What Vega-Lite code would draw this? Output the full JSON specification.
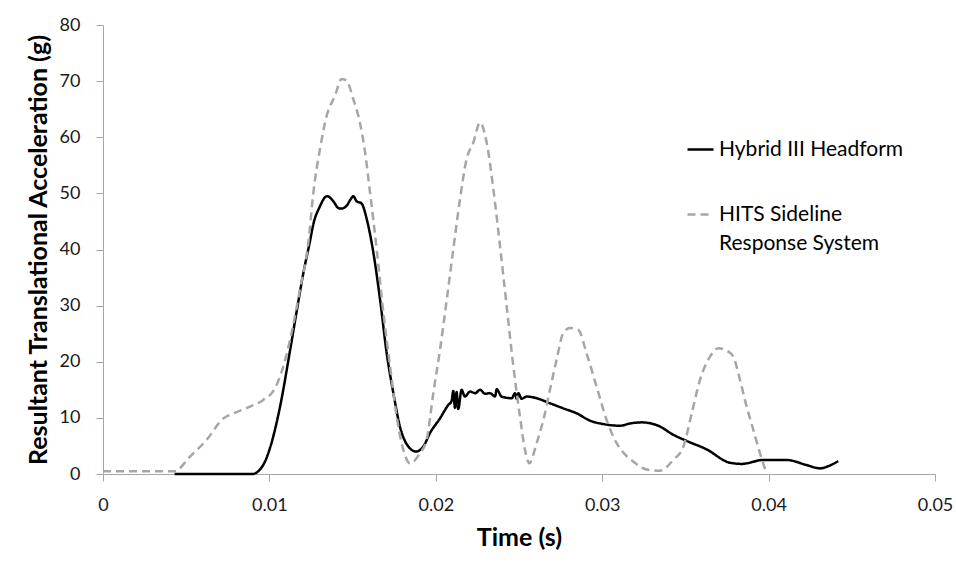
{
  "$schema": "https://vega.github.io/schema/vega-lite/v6.json",
  "width": 832,
  "height": 449,
  "autosize": "none",
  "padding": {"left": 103, "top": 25, "right": 21, "bottom": 89},
  "background": "white",
  "config": {
    "view": {"stroke": null},
    "font": "Lato",
    "style": {"guide-label": {"lineHeight": 29}},
    "axis": {"grid": false, "domainColor": "#A6A6A6", "tickColor": "#A6A6A6", "domainWidth": 1, "tickWidth": 1, "labelFont": "Lato", "labelFontSize": 18, "labelColor": "#1a1a1a", "titleFont": "Lato", "titleFontWeight": "bold", "titleColor": "#000000"}
  },
  "data": {"values": [
    {"t":0.0043,"g":0,"s":"Hybrid III Headform"},
    {"t":0.0090,"g":0,"s":"Hybrid III Headform"},
    {"t":0.0092,"g":0.2,"s":"Hybrid III Headform"},
    {"t":0.0094,"g":0.7,"s":"Hybrid III Headform"},
    {"t":0.0097,"g":2,"s":"Hybrid III Headform"},
    {"t":0.0100,"g":4.3,"s":"Hybrid III Headform"},
    {"t":0.01064,"g":12,"s":"Hybrid III Headform"},
    {"t":0.01124,"g":22,"s":"Hybrid III Headform"},
    {"t":0.01164,"g":29,"s":"Hybrid III Headform"},
    {"t":0.01204,"g":35.8,"s":"Hybrid III Headform"},
    {"t":0.01244,"g":41.5,"s":"Hybrid III Headform"},
    {"t":0.01264,"g":44.5,"s":"Hybrid III Headform"},
    {"t":0.01304,"g":47.7,"s":"Hybrid III Headform"},
    {"t":0.01334,"g":49.3,"s":"Hybrid III Headform"},
    {"t":0.01348,"g":49.5,"s":"Hybrid III Headform"},
    {"t":0.01384,"g":48.6,"s":"Hybrid III Headform"},
    {"t":0.01414,"g":47.4,"s":"Hybrid III Headform"},
    {"t":0.01434,"g":47.3,"s":"Hybrid III Headform"},
    {"t":0.01464,"g":47.8,"s":"Hybrid III Headform"},
    {"t":0.01494,"g":49.2,"s":"Hybrid III Headform"},
    {"t":0.01504,"g":49.5,"s":"Hybrid III Headform"},
    {"t":0.01524,"g":48.6,"s":"Hybrid III Headform"},
    {"t":0.01554,"g":48.2,"s":"Hybrid III Headform"},
    {"t":0.01585,"g":45.4,"s":"Hybrid III Headform"},
    {"t":0.0162,"g":40.3,"s":"Hybrid III Headform"},
    {"t":0.01665,"g":31.1,"s":"Hybrid III Headform"},
    {"t":0.01705,"g":21.5,"s":"Hybrid III Headform"},
    {"t":0.01745,"g":14.4,"s":"Hybrid III Headform"},
    {"t":0.01785,"g":8.4,"s":"Hybrid III Headform"},
    {"t":0.01835,"g":4.9,"s":"Hybrid III Headform"},
    {"t":0.01881,"g":4.0,"s":"Hybrid III Headform"},
    {"t":0.01925,"g":4.9,"s":"Hybrid III Headform"},
    {"t":0.01965,"g":7.3,"s":"Hybrid III Headform"},
    {"t":0.02025,"g":9.9,"s":"Hybrid III Headform"},
    {"t":0.02075,"g":12.3,"s":"Hybrid III Headform"},
    {"t":0.02095,"g":13,"s":"Hybrid III Headform"},
    {"t":0.02105,"g":14.8,"s":"Hybrid III Headform"},
    {"t":0.02115,"g":11.8,"s":"Hybrid III Headform"},
    {"t":0.02125,"g":14.6,"s":"Hybrid III Headform"},
    {"t":0.02135,"g":11.6,"s":"Hybrid III Headform"},
    {"t":0.02155,"g":15,"s":"Hybrid III Headform"},
    {"t":0.02175,"g":13.8,"s":"Hybrid III Headform"},
    {"t":0.02206,"g":14.7,"s":"Hybrid III Headform"},
    {"t":0.02236,"g":14.4,"s":"Hybrid III Headform"},
    {"t":0.02266,"g":15,"s":"Hybrid III Headform"},
    {"t":0.02296,"g":14.3,"s":"Hybrid III Headform"},
    {"t":0.02326,"g":14.4,"s":"Hybrid III Headform"},
    {"t":0.02356,"g":13.8,"s":"Hybrid III Headform"},
    {"t":0.02366,"g":15.1,"s":"Hybrid III Headform"},
    {"t":0.02395,"g":13.8,"s":"Hybrid III Headform"},
    {"t":0.02456,"g":13.5,"s":"Hybrid III Headform"},
    {"t":0.02476,"g":14.4,"s":"Hybrid III Headform"},
    {"t":0.02486,"g":13.4,"s":"Hybrid III Headform"},
    {"t":0.02496,"g":14.4,"s":"Hybrid III Headform"},
    {"t":0.02516,"g":13.4,"s":"Hybrid III Headform"},
    {"t":0.02546,"g":13.8,"s":"Hybrid III Headform"},
    {"t":0.02606,"g":13.5,"s":"Hybrid III Headform"},
    {"t":0.02686,"g":12.6,"s":"Hybrid III Headform"},
    {"t":0.02766,"g":11.7,"s":"Hybrid III Headform"},
    {"t":0.02847,"g":10.8,"s":"Hybrid III Headform"},
    {"t":0.02927,"g":9.5,"s":"Hybrid III Headform"},
    {"t":0.03007,"g":8.9,"s":"Hybrid III Headform"},
    {"t":0.03107,"g":8.6,"s":"Hybrid III Headform"},
    {"t":0.03167,"g":9.0,"s":"Hybrid III Headform"},
    {"t":0.03237,"g":9.2,"s":"Hybrid III Headform"},
    {"t":0.03337,"g":8.6,"s":"Hybrid III Headform"},
    {"t":0.03427,"g":7.0,"s":"Hybrid III Headform"},
    {"t":0.03507,"g":5.9,"s":"Hybrid III Headform"},
    {"t":0.03627,"g":4.4,"s":"Hybrid III Headform"},
    {"t":0.03768,"g":2.0,"s":"Hybrid III Headform"},
    {"t":0.03838,"g":1.8,"s":"Hybrid III Headform"},
    {"t":0.03968,"g":2.5,"s":"Hybrid III Headform"},
    {"t":0.04108,"g":2.5,"s":"Hybrid III Headform"},
    {"t":0.04228,"g":1.6,"s":"Hybrid III Headform"},
    {"t":0.04309,"g":1.0,"s":"Hybrid III Headform"},
    {"t":0.04359,"g":1.4,"s":"Hybrid III Headform"},
    {"t":0.04419,"g":2.3,"s":"Hybrid III Headform"},
    {"t":0,"g":0.5,"s":"HITS Sideline Response System"},
    {"t":0.0043,"g":0.5,"s":"HITS Sideline Response System"},
    {"t":0.00523,"g":3.1,"s":"HITS Sideline Response System"},
    {"t":0.00623,"g":6.1,"s":"HITS Sideline Response System"},
    {"t":0.00723,"g":9.9,"s":"HITS Sideline Response System"},
    {"t":0.00783,"g":10.8,"s":"HITS Sideline Response System"},
    {"t":0.00883,"g":12,"s":"HITS Sideline Response System"},
    {"t":0.00963,"g":13.2,"s":"HITS Sideline Response System"},
    {"t":0.01034,"g":15.3,"s":"HITS Sideline Response System"},
    {"t":0.01084,"g":19.2,"s":"HITS Sideline Response System"},
    {"t":0.01124,"g":23.9,"s":"HITS Sideline Response System"},
    {"t":0.01184,"g":32.9,"s":"HITS Sideline Response System"},
    {"t":0.01234,"g":41.2,"s":"HITS Sideline Response System"},
    {"t":0.01264,"g":50.1,"s":"HITS Sideline Response System"},
    {"t":0.01304,"g":57.9,"s":"HITS Sideline Response System"},
    {"t":0.01344,"g":63.8,"s":"HITS Sideline Response System"},
    {"t":0.01394,"g":67.4,"s":"HITS Sideline Response System"},
    {"t":0.01434,"g":70.4,"s":"HITS Sideline Response System"},
    {"t":0.01464,"g":70.1,"s":"HITS Sideline Response System"},
    {"t":0.01504,"g":66.8,"s":"HITS Sideline Response System"},
    {"t":0.01544,"g":62.6,"s":"HITS Sideline Response System"},
    {"t":0.01575,"g":57.3,"s":"HITS Sideline Response System"},
    {"t":0.01605,"g":50.1,"s":"HITS Sideline Response System"},
    {"t":0.01645,"g":40,"s":"HITS Sideline Response System"},
    {"t":0.01685,"g":28.7,"s":"HITS Sideline Response System"},
    {"t":0.01725,"g":19.2,"s":"HITS Sideline Response System"},
    {"t":0.01765,"g":10.2,"s":"HITS Sideline Response System"},
    {"t":0.01805,"g":4.3,"s":"HITS Sideline Response System"},
    {"t":0.01845,"g":1.9,"s":"HITS Sideline Response System"},
    {"t":0.01905,"g":3.7,"s":"HITS Sideline Response System"},
    {"t":0.01945,"g":6.1,"s":"HITS Sideline Response System"},
    {"t":0.01985,"g":14.4,"s":"HITS Sideline Response System"},
    {"t":0.02025,"g":22.1,"s":"HITS Sideline Response System"},
    {"t":0.02066,"g":31.1,"s":"HITS Sideline Response System"},
    {"t":0.02105,"g":40,"s":"HITS Sideline Response System"},
    {"t":0.02145,"g":48.9,"s":"HITS Sideline Response System"},
    {"t":0.02185,"g":56.1,"s":"HITS Sideline Response System"},
    {"t":0.02225,"g":59,"s":"HITS Sideline Response System"},
    {"t":0.02266,"g":62.6,"s":"HITS Sideline Response System"},
    {"t":0.02306,"g":59,"s":"HITS Sideline Response System"},
    {"t":0.02346,"g":50.7,"s":"HITS Sideline Response System"},
    {"t":0.02386,"g":40.6,"s":"HITS Sideline Response System"},
    {"t":0.02426,"g":29.9,"s":"HITS Sideline Response System"},
    {"t":0.02466,"g":19.2,"s":"HITS Sideline Response System"},
    {"t":0.02506,"g":10.2,"s":"HITS Sideline Response System"},
    {"t":0.02536,"g":4.3,"s":"HITS Sideline Response System"},
    {"t":0.02562,"g":1.9,"s":"HITS Sideline Response System"},
    {"t":0.02606,"g":5.5,"s":"HITS Sideline Response System"},
    {"t":0.02646,"g":9.6,"s":"HITS Sideline Response System"},
    {"t":0.02686,"g":15,"s":"HITS Sideline Response System"},
    {"t":0.02726,"g":20.4,"s":"HITS Sideline Response System"},
    {"t":0.02766,"g":25.1,"s":"HITS Sideline Response System"},
    {"t":0.02806,"g":26,"s":"HITS Sideline Response System"},
    {"t":0.02856,"g":25.7,"s":"HITS Sideline Response System"},
    {"t":0.02906,"g":21.5,"s":"HITS Sideline Response System"},
    {"t":0.02966,"g":15.6,"s":"HITS Sideline Response System"},
    {"t":0.03027,"g":9.6,"s":"HITS Sideline Response System"},
    {"t":0.03087,"g":5.5,"s":"HITS Sideline Response System"},
    {"t":0.03147,"g":3.2,"s":"HITS Sideline Response System"},
    {"t":0.03187,"g":2.2,"s":"HITS Sideline Response System"},
    {"t":0.03267,"g":0.8,"s":"HITS Sideline Response System"},
    {"t":0.03347,"g":0.6,"s":"HITS Sideline Response System"},
    {"t":0.03427,"g":2.5,"s":"HITS Sideline Response System"},
    {"t":0.03488,"g":4.9,"s":"HITS Sideline Response System"},
    {"t":0.03538,"g":10.8,"s":"HITS Sideline Response System"},
    {"t":0.03588,"g":16.8,"s":"HITS Sideline Response System"},
    {"t":0.03648,"g":20.9,"s":"HITS Sideline Response System"},
    {"t":0.03698,"g":22.4,"s":"HITS Sideline Response System"},
    {"t":0.03758,"g":21.8,"s":"HITS Sideline Response System"},
    {"t":0.03788,"g":20.9,"s":"HITS Sideline Response System"},
    {"t":0.03828,"g":16.8,"s":"HITS Sideline Response System"},
    {"t":0.03868,"g":12,"s":"HITS Sideline Response System"},
    {"t":0.03908,"g":7.9,"s":"HITS Sideline Response System"},
    {"t":0.03948,"g":3.7,"s":"HITS Sideline Response System"},
    {"t":0.03984,"g":0.4,"s":"HITS Sideline Response System"}
  ]},
  "mark": {"type": "line", "interpolate": "monotone", "strokeWidth": 2.5, "strokeCap": "butt"},
  "encoding": {
    "x": {"field": "t", "type": "quantitative", "title": "Time (s)",
      "scale": {"domain": [0, 0.05], "nice": false, "zero": false},
      "axis": {"values": [0, 0.01, 0.02, 0.03, 0.04, 0.05], "format": ".2~f", "tickSize": 7, "labelPadding": 15, "titleFontSize": 25, "titlePadding": 11, "labelFlush": false}},
    "y": {"field": "g", "type": "quantitative", "title": "Resultant Translational Acceleration (g)",
      "scale": {"domain": [0, 80], "nice": false},
      "axis": {"values": [0, 10, 20, 30, 40, 50, 60, 70, 80], "tickSize": 7, "labelPadding": 16, "titleFontSize": 25, "titlePadding": 8, "labelFlush": false}},
    "color": {"field": "s", "type": "nominal",
      "scale": {"domain": ["Hybrid III Headform", "HITS Sideline Response System"], "range": ["#000000", "#A6A6A6"]},
      "legend": {"title": null, "orient": "none", "legendX": 583, "legendY": 110, "padding": 0,
        "symbolType": "stroke", "symbolSize": 676, "symbolStrokeWidth": 2.5, "labelOffset": 4,
        "labelFont": "Lato", "labelFontSize": 21, "labelColor": "#000000", "labelLimit": 400, "rowPadding": 40,
        "labelExpr": "datum.label == 'HITS Sideline Response System' ? ['HITS Sideline', 'Response System'] : datum.label"}},
    "strokeDash": {"field": "s", "type": "nominal",
      "scale": {"domain": ["Hybrid III Headform", "HITS Sideline Response System"], "range": [[1, 0], [8, 5]]},
      "legend": null}
  }
}
